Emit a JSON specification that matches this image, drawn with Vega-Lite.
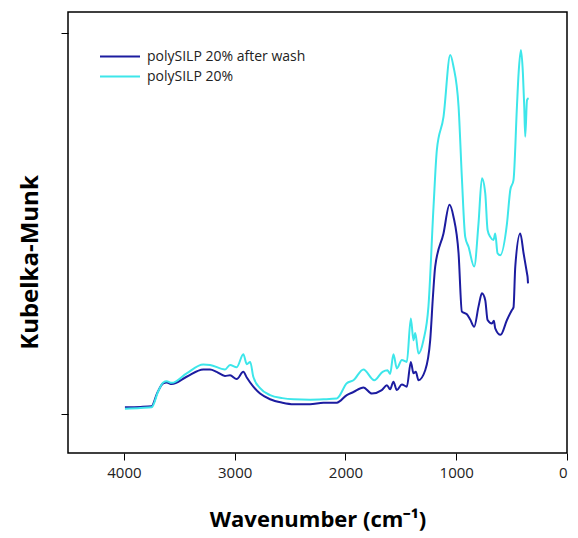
{
  "$schema": "https://vega.github.io/schema/vega-lite/v6.json",
  "width": 499,
  "height": 441,
  "autosize": {"type": "none"},
  "padding": {"left": 68, "top": 12, "right": 11, "bottom": 85},
  "background": "white",
  "config": {
    "view": {"stroke": "black", "strokeWidth": 1.5},
    "font": "Open Sans"
  },
  "datasets": {
    "spec": [
      {"w": 3991, "v": 0.018, "s": "polySILP 20% after wash"},
      {"w": 3850, "v": 0.019, "s": "polySILP 20% after wash"},
      {"w": 3750, "v": 0.021, "s": "polySILP 20% after wash"},
      {"w": 3700, "v": 0.055, "s": "polySILP 20% after wash"},
      {"w": 3645, "v": 0.081, "s": "polySILP 20% after wash"},
      {"w": 3614, "v": 0.083, "s": "polySILP 20% after wash"},
      {"w": 3569, "v": 0.079, "s": "polySILP 20% after wash"},
      {"w": 3434, "v": 0.098, "s": "polySILP 20% after wash"},
      {"w": 3284, "v": 0.117, "s": "polySILP 20% after wash"},
      {"w": 3223, "v": 0.117, "s": "polySILP 20% after wash"},
      {"w": 3163, "v": 0.111, "s": "polySILP 20% after wash"},
      {"w": 3088, "v": 0.1, "s": "polySILP 20% after wash"},
      {"w": 3042, "v": 0.102, "s": "polySILP 20% after wash"},
      {"w": 2982, "v": 0.092, "s": "polySILP 20% after wash"},
      {"w": 2922, "v": 0.111, "s": "polySILP 20% after wash"},
      {"w": 2891, "v": 0.096, "s": "polySILP 20% after wash"},
      {"w": 2832, "v": 0.072, "s": "polySILP 20% after wash"},
      {"w": 2771, "v": 0.054, "s": "polySILP 20% after wash"},
      {"w": 2681, "v": 0.039, "s": "polySILP 20% after wash"},
      {"w": 2570, "v": 0.03, "s": "polySILP 20% after wash"},
      {"w": 2470, "v": 0.026, "s": "polySILP 20% after wash"},
      {"w": 2320, "v": 0.026, "s": "polySILP 20% after wash"},
      {"w": 2199, "v": 0.03, "s": "polySILP 20% after wash"},
      {"w": 2078, "v": 0.03, "s": "polySILP 20% after wash"},
      {"w": 1988, "v": 0.05, "s": "polySILP 20% after wash"},
      {"w": 1928, "v": 0.058, "s": "polySILP 20% after wash"},
      {"w": 1838, "v": 0.07, "s": "polySILP 20% after wash"},
      {"w": 1762, "v": 0.054, "s": "polySILP 20% after wash"},
      {"w": 1672, "v": 0.063, "s": "polySILP 20% after wash"},
      {"w": 1626, "v": 0.076, "s": "polySILP 20% after wash"},
      {"w": 1597, "v": 0.065, "s": "polySILP 20% after wash"},
      {"w": 1567, "v": 0.085, "s": "polySILP 20% after wash"},
      {"w": 1536, "v": 0.063, "s": "polySILP 20% after wash"},
      {"w": 1491, "v": 0.078, "s": "polySILP 20% after wash"},
      {"w": 1446, "v": 0.072, "s": "polySILP 20% after wash"},
      {"w": 1410, "v": 0.137, "s": "polySILP 20% after wash"},
      {"w": 1386, "v": 0.107, "s": "polySILP 20% after wash"},
      {"w": 1365, "v": 0.111, "s": "polySILP 20% after wash"},
      {"w": 1341, "v": 0.089, "s": "polySILP 20% after wash"},
      {"w": 1280, "v": 0.115, "s": "polySILP 20% after wash"},
      {"w": 1235, "v": 0.194, "s": "polySILP 20% after wash"},
      {"w": 1210, "v": 0.31, "s": "polySILP 20% after wash"},
      {"w": 1190, "v": 0.387, "s": "polySILP 20% after wash"},
      {"w": 1115, "v": 0.474, "s": "polySILP 20% after wash"},
      {"w": 1061, "v": 0.549, "s": "polySILP 20% after wash"},
      {"w": 1025, "v": 0.518, "s": "polySILP 20% after wash"},
      {"w": 979, "v": 0.422, "s": "polySILP 20% after wash"},
      {"w": 949, "v": 0.269, "s": "polySILP 20% after wash"},
      {"w": 904, "v": 0.262, "s": "polySILP 20% after wash"},
      {"w": 874, "v": 0.248, "s": "polySILP 20% after wash"},
      {"w": 838, "v": 0.229, "s": "polySILP 20% after wash"},
      {"w": 799, "v": 0.282, "s": "polySILP 20% after wash"},
      {"w": 768, "v": 0.317, "s": "polySILP 20% after wash"},
      {"w": 738, "v": 0.299, "s": "polySILP 20% after wash"},
      {"w": 717, "v": 0.247, "s": "polySILP 20% after wash"},
      {"w": 678, "v": 0.238, "s": "polySILP 20% after wash"},
      {"w": 660, "v": 0.245, "s": "polySILP 20% after wash"},
      {"w": 648, "v": 0.225, "s": "polySILP 20% after wash"},
      {"w": 600, "v": 0.208, "s": "polySILP 20% after wash"},
      {"w": 542, "v": 0.247, "s": "polySILP 20% after wash"},
      {"w": 497, "v": 0.273, "s": "polySILP 20% after wash"},
      {"w": 483, "v": 0.28, "s": "polySILP 20% after wash"},
      {"w": 467, "v": 0.387, "s": "polySILP 20% after wash"},
      {"w": 422, "v": 0.474, "s": "polySILP 20% after wash"},
      {"w": 392, "v": 0.422, "s": "polySILP 20% after wash"},
      {"w": 361, "v": 0.369, "s": "polySILP 20% after wash"},
      {"w": 356, "v": 0.36, "s": "polySILP 20% after wash"},
      {"w": 352, "v": 0.343, "s": "polySILP 20% after wash"},

      {"w": 3991, "v": 0.014, "s": "polySILP 20%"},
      {"w": 3850, "v": 0.016, "s": "polySILP 20%"},
      {"w": 3750, "v": 0.018, "s": "polySILP 20%"},
      {"w": 3690, "v": 0.06, "s": "polySILP 20%"},
      {"w": 3645, "v": 0.083, "s": "polySILP 20%"},
      {"w": 3614, "v": 0.086, "s": "polySILP 20%"},
      {"w": 3569, "v": 0.082, "s": "polySILP 20%"},
      {"w": 3434, "v": 0.107, "s": "polySILP 20%"},
      {"w": 3284, "v": 0.13, "s": "polySILP 20%"},
      {"w": 3223, "v": 0.129, "s": "polySILP 20%"},
      {"w": 3088, "v": 0.117, "s": "polySILP 20%"},
      {"w": 3042, "v": 0.129, "s": "polySILP 20%"},
      {"w": 2982, "v": 0.123, "s": "polySILP 20%"},
      {"w": 2922, "v": 0.157, "s": "polySILP 20%"},
      {"w": 2891, "v": 0.131, "s": "polySILP 20%"},
      {"w": 2860, "v": 0.137, "s": "polySILP 20%"},
      {"w": 2832, "v": 0.098, "s": "polySILP 20%"},
      {"w": 2771, "v": 0.068, "s": "polySILP 20%"},
      {"w": 2681, "v": 0.05, "s": "polySILP 20%"},
      {"w": 2570, "v": 0.042, "s": "polySILP 20%"},
      {"w": 2470, "v": 0.039, "s": "polySILP 20%"},
      {"w": 2320, "v": 0.038, "s": "polySILP 20%"},
      {"w": 2199, "v": 0.039, "s": "polySILP 20%"},
      {"w": 2078, "v": 0.041, "s": "polySILP 20%"},
      {"w": 1988, "v": 0.081, "s": "polySILP 20%"},
      {"w": 1928, "v": 0.089, "s": "polySILP 20%"},
      {"w": 1838, "v": 0.117, "s": "polySILP 20%"},
      {"w": 1740, "v": 0.089, "s": "polySILP 20%"},
      {"w": 1665, "v": 0.111, "s": "polySILP 20%"},
      {"w": 1620, "v": 0.115, "s": "polySILP 20%"},
      {"w": 1597, "v": 0.105, "s": "polySILP 20%"},
      {"w": 1567, "v": 0.157, "s": "polySILP 20%"},
      {"w": 1536, "v": 0.12, "s": "polySILP 20%"},
      {"w": 1491, "v": 0.142, "s": "polySILP 20%"},
      {"w": 1446, "v": 0.137, "s": "polySILP 20%"},
      {"w": 1410, "v": 0.251, "s": "polySILP 20%"},
      {"w": 1386, "v": 0.194, "s": "polySILP 20%"},
      {"w": 1370, "v": 0.213, "s": "polySILP 20%"},
      {"w": 1341, "v": 0.159, "s": "polySILP 20%"},
      {"w": 1296, "v": 0.194, "s": "polySILP 20%"},
      {"w": 1251, "v": 0.282, "s": "polySILP 20%"},
      {"w": 1205, "v": 0.544, "s": "polySILP 20%"},
      {"w": 1175, "v": 0.693, "s": "polySILP 20%"},
      {"w": 1115, "v": 0.78, "s": "polySILP 20%"},
      {"w": 1054, "v": 0.942, "s": "polySILP 20%"},
      {"w": 1025, "v": 0.912, "s": "polySILP 20%"},
      {"w": 979, "v": 0.807, "s": "polySILP 20%"},
      {"w": 949, "v": 0.62, "s": "polySILP 20%"},
      {"w": 919, "v": 0.465, "s": "polySILP 20%"},
      {"w": 889, "v": 0.439, "s": "polySILP 20%"},
      {"w": 838, "v": 0.387, "s": "polySILP 20%"},
      {"w": 799, "v": 0.5, "s": "polySILP 20%"},
      {"w": 768, "v": 0.619, "s": "polySILP 20%"},
      {"w": 738, "v": 0.579, "s": "polySILP 20%"},
      {"w": 717, "v": 0.483, "s": "polySILP 20%"},
      {"w": 693, "v": 0.465, "s": "polySILP 20%"},
      {"w": 663, "v": 0.457, "s": "polySILP 20%"},
      {"w": 648, "v": 0.474, "s": "polySILP 20%"},
      {"w": 627, "v": 0.422, "s": "polySILP 20%"},
      {"w": 603, "v": 0.417, "s": "polySILP 20%"},
      {"w": 542, "v": 0.5, "s": "polySILP 20%"},
      {"w": 512, "v": 0.588, "s": "polySILP 20%"},
      {"w": 483, "v": 0.614, "s": "polySILP 20%"},
      {"w": 452, "v": 0.807, "s": "polySILP 20%"},
      {"w": 437, "v": 0.894, "s": "polySILP 20%"},
      {"w": 416, "v": 0.955, "s": "polySILP 20%"},
      {"w": 398, "v": 0.894, "s": "polySILP 20%"},
      {"w": 386, "v": 0.807, "s": "polySILP 20%"},
      {"w": 377, "v": 0.728, "s": "polySILP 20%"},
      {"w": 361, "v": 0.824, "s": "polySILP 20%"},
      {"w": 347, "v": 0.829, "s": "polySILP 20%"}
    ]
  },
  "data": {"name": "spec"},
  "mark": {"type": "line", "strokeWidth": 2, "interpolate": "monotone"},
  "encoding": {
    "x": {
      "field": "w",
      "type": "quantitative",
      "scale": {"domain": [0, 4505], "reverse": true, "nice": false, "zero": false},
      "axis": {
        "values": [0, 1000, 2000, 3000, 4000],
        "format": "d",
        "grid": false,
        "domain": false,
        "tickColor": "black",
        "tickSize": 7,
        "labelFontSize": 15,
        "labelColor": "#222",
        "labelPadding": 5,
        "labelFont": "Open Sans",
        "title": "Wavenumber (cm⁻¹)",
        "titleFontSize": 22,
        "titleFont": "Open Sans",
        "titleFontWeight": "bold",
        "titleColor": "black",
        "titlePadding": 29
      }
    },
    "y": {
      "field": "v",
      "type": "quantitative",
      "scale": {"domain": [-0.102, 1.055], "nice": false, "zero": false},
      "axis": {
        "values": [0, 1],
        "labels": false,
        "grid": false,
        "domain": false,
        "tickColor": "black",
        "tickSize": 7,
        "title": "Kubelka-Munk",
        "titleFontSize": 24,
        "titleFont": "Open Sans",
        "titleFontWeight": "bold",
        "titleColor": "black",
        "titlePadding": 18,
        "titleY": 250
      }
    },
    "color": {
      "field": "s",
      "type": "nominal",
      "sort": ["polySILP 20% after wash", "polySILP 20%"],
      "scale": {"domain": ["polySILP 20% after wash", "polySILP 20%"], "range": ["#1c1ca0", "#3de6ea"]},
      "legend": {
        "title": null,
        "orient": "none",
        "legendX": 31,
        "legendY": 37,
        "symbolType": "stroke",
        "symbolSize": 1600,
        "symbolStrokeWidth": 2,
        "labelFontSize": 14,
        "labelFont": "Open Sans",
        "labelColor": "#222",
        "rowPadding": 5,
        "labelOffset": 6,
        "clipHeight": 15
      }
    }
  }
}
